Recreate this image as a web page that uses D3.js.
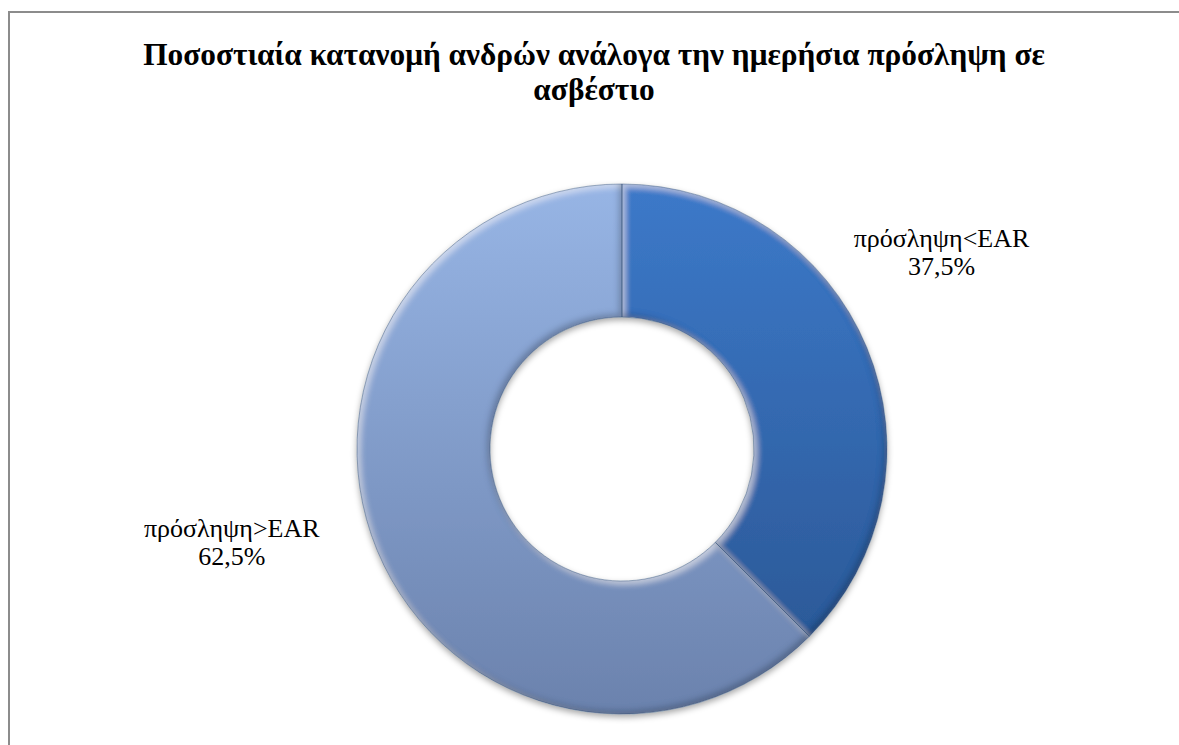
<!DOCTYPE html>
<html>
<head>
<meta charset="utf-8">
<script src="https://cdn.jsdelivr.net/npm/d3@7/dist/d3.min.js"></script>
<style>
  html, body { margin: 0; padding: 0; background: #fff; }
  svg { display: block; }
  .serif { font-family: "Liberation Serif", "Tinos", "Noto Serif", "DejaVu Serif", "FreeSerif", "Nimbus Roman", "Times New Roman", Times, serif; }
</style>
</head>
<body>
<svg id="chart" width="1179" height="745"></svg>
<script>
// Share of men by daily calcium intake relative to EAR
const categories = ["πρόσληψη<EAR", "πρόσληψη>EAR"];
const shares = [37.5, 62.5];
const valueLabels = ["37,5%", "62,5%"];
const titleLines = ["Ποσοστιαία κατανομή ανδρών ανάλογα την ημερήσια πρόσληψη σε", "ασβέστιο"];

// per-slice gradient stops (top colour, bottom colour)
const sliceColors = [
  ["#3c79c9", "#295490"],
  ["#97b5e5", "#6b82ad"]
];

const W = 1179, H = 745;
const cx = 622, cy = 449;
const outerR = 265, innerR = 132;
const titleWidth = 902;

const svg = d3.select("#chart");
const defs = svg.append("defs");

// chart frame
svg.append("rect")
  .attr("x", 9).attr("y", 12)
  .attr("width", W + 20).attr("height", H + 20)
  .attr("fill", "#fff")
  .attr("stroke", "#8c8c8c")
  .attr("stroke-width", 2);

// title, sized so its first line spans the title width
const title = svg.append("text")
  .attr("class", "serif")
  .attr("text-anchor", "middle")
  .attr("font-weight", "bold")
  .attr("font-size", 26)
  .attr("fill", "#000");
const titleSpans = titleLines.map((line, i) =>
  title.append("tspan")
    .attr("x", 594)
    .attr("y", 65 + i * 35)
    .text(line));
const firstLen = titleSpans[0].node().getComputedTextLength();
if (firstLen > 0) title.attr("font-size", Math.min(34, 26 * titleWidth / firstLen));

// shadow under the ring
const shadow = defs.append("filter")
  .attr("id", "ringShadow")
  .attr("x", "-10%").attr("y", "-10%")
  .attr("width", "120%").attr("height", "125%");
shadow.append("feDropShadow")
  .attr("dx", 0).attr("dy", 3)
  .attr("stdDeviation", 3)
  .attr("flood-color", "#000")
  .attr("flood-opacity", 0.35);

// soft bevel: light rim on edges facing up-left, dark rim on edges facing down-right
const bevel = defs.append("filter")
  .attr("id", "bevel")
  .attr("x", "-5%").attr("y", "-5%")
  .attr("width", "110%").attr("height", "110%");
bevel.append("feGaussianBlur").attr("in", "SourceAlpha").attr("stdDeviation", 3).attr("result", "blur");
bevel.append("feOffset").attr("in", "blur").attr("dx", 3).attr("dy", 3).attr("result", "blurDR");
bevel.append("feOffset").attr("in", "blur").attr("dx", -3).attr("dy", -3).attr("result", "blurUL");
bevel.append("feComposite").attr("in", "SourceAlpha").attr("in2", "blurDR")
  .attr("operator", "arithmetic").attr("k1", 0).attr("k2", 1).attr("k3", -1).attr("k4", 0)
  .attr("result", "edgeUL");
bevel.append("feComposite").attr("in", "SourceAlpha").attr("in2", "blurUL")
  .attr("operator", "arithmetic").attr("k1", 0).attr("k2", 1).attr("k3", -1).attr("k4", 0)
  .attr("result", "edgeDR");
bevel.append("feFlood").attr("flood-color", "#ffffff").attr("flood-opacity", 0.5).attr("result", "lightCol");
bevel.append("feComposite").attr("in", "lightCol").attr("in2", "edgeUL").attr("operator", "in").attr("result", "light");
bevel.append("feFlood").attr("flood-color", "#0d1f3a").attr("flood-opacity", 0.5).attr("result", "darkCol");
bevel.append("feComposite").attr("in", "darkCol").attr("in2", "edgeDR").attr("operator", "in").attr("result", "dark");
const merge = bevel.append("feMerge").attr("result", "merged");
merge.append("feMergeNode").attr("in", "SourceGraphic");
merge.append("feMergeNode").attr("in", "light");
merge.append("feMergeNode").attr("in", "dark");
bevel.append("feComposite").attr("in", "merged").attr("in2", "SourceAlpha").attr("operator", "in");

sliceColors.forEach((c, i) => {
  const g = defs.append("linearGradient")
    .attr("id", "sliceGrad" + i)
    .attr("gradientUnits", "userSpaceOnUse")
    .attr("x1", 0).attr("y1", -outerR)
    .attr("x2", 0).attr("y2", outerR);
  g.append("stop").attr("offset", "0%").attr("stop-color", c[0]);
  g.append("stop").attr("offset", "100%").attr("stop-color", c[1]);
});

const pie = d3.pie().sort(null).value(d => d)(shares);
const arc = d3.arc().innerRadius(innerR).outerRadius(outerR);

const ring = svg.append("g")
  .attr("transform", `translate(${cx},${cy})`)
  .attr("filter", "url(#ringShadow)");

ring.selectAll("path.slice")
  .data(pie)
  .join("path")
  .attr("class", "slice")
  .attr("d", arc)
  .attr("fill", (d, i) => `url(#sliceGrad${i})`)
  .attr("filter", "url(#bevel)");

// thin outline round each slice
ring.selectAll("path.outline")
  .data(pie)
  .join("path")
  .attr("class", "outline")
  .attr("d", arc)
  .attr("fill", "none")
  .attr("stroke", "#2a4a75")
  .attr("stroke-opacity", 0.55)
  .attr("stroke-width", 0.8);

// outside labels: placed along each slice's mid-angle (anchor = first baseline)
const labelPlacement = [
  { angleShift: -0.171, radius: 378 },
  { angleShift: 0.171, radius: 400 }
];
const labels = svg.append("g")
  .attr("class", "serif")
  .attr("font-size", 26)
  .attr("fill", "#000")
  .attr("text-anchor", "middle");

pie.forEach((p, i) => {
  const a = (p.startAngle + p.endAngle) / 2 + labelPlacement[i].angleShift;
  const r = labelPlacement[i].radius;
  const lx = cx + Math.sin(a) * r;
  const ly = cy - Math.cos(a) * r;
  const t = labels.append("text");
  t.append("tspan").attr("x", lx).attr("y", ly).text(categories[i]);
  t.append("tspan").attr("x", lx).attr("y", ly + 28).text(valueLabels[i]);
});
</script>
</body>
</html>
